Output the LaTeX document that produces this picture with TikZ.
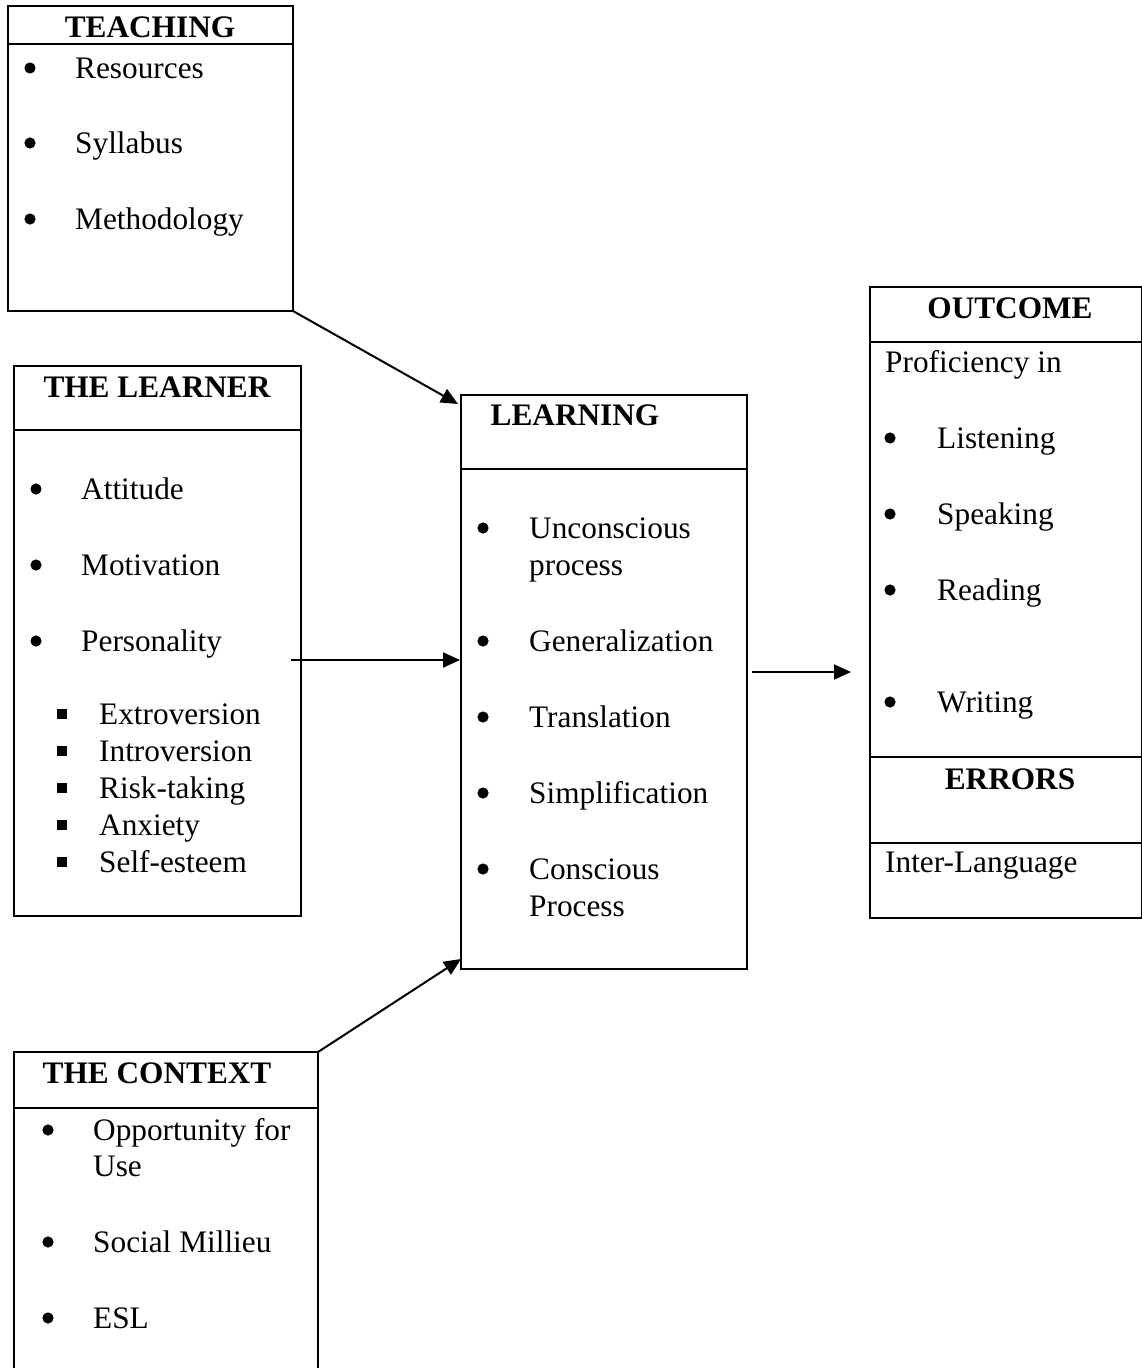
\documentclass[tikz,border=0pt]{standalone}
\usepackage{fontspec}
\setmainfont{Liberation Serif}
\usetikzlibrary{arrows.meta}
\newcommand{\fsz}{\fontsize{31.3}{37}\selectfont}
\tikzset{
  boxnode/.style={draw, line width=2pt, inner sep=0pt, outer sep=0pt, anchor=north west},
  openbox/.style={inner sep=0pt, outer sep=0pt, anchor=north west},
  sepline/.style={line width=2pt},
  txt/.style={anchor=base west, inner sep=0pt, font=\fsz},
  hd/.style={anchor=base, inner sep=0pt, font=\fsz\bfseries},
  conn/.style={line width=2pt, -{Triangle[length=17pt,width=15pt]}},
}
\newcommand{\bul}[2]{\fill (#1,#2-10) circle (5.6pt);}
\newcommand{\sqb}[2]{\fill (#1-5,#2-15) rectangle ++(10,10);}
\begin{document}
\begin{tikzpicture}[x=1pt,y=-1pt]
\useasboundingbox (0,0) rectangle (1142,1368);
% ---- TEACHING ----
\node[boxnode, minimum width=285pt, minimum height=305pt] (teach) at (8,6) {};
\draw[sepline] (8,44) -- (293,44);
\node[hd] (teachh) at (150,37) {TEACHING};
\bul{30}{78}\node[txt] (t1) at (75,78) {Resources};
\bul{30}{153}\node[txt] (t2) at (75,153) {Syllabus};
\bul{30}{229}\node[txt] (t3) at (75,229) {Methodology};
% ---- THE LEARNER ----
\node[boxnode, minimum width=287pt, minimum height=550pt] (learner) at (14,366) {};
\draw[sepline] (14,430) -- (301,430);
\node[hd] (learnerh) at (157,397) {THE LEARNER};
\bul{36}{499}\node[txt] (l1) at (81,499) {Attitude};
\bul{36}{575}\node[txt] (l2) at (81,575) {Motivation};
\bul{36}{651}\node[txt] (l3) at (81,651) {Personality};
\sqb{62}{724}\node[txt] (l4) at (99,724) {Extroversion};
\sqb{62}{761}\node[txt] (l5) at (99,761) {Introversion};
\sqb{62}{798}\node[txt] (l6) at (99,798) {Risk-taking};
\sqb{62}{835}\node[txt] (l7) at (99,835) {Anxiety};
\sqb{62}{872}\node[txt] (l8) at (99,872) {Self-esteem};
% ---- LEARNING ----
\node[boxnode, minimum width=286pt, minimum height=574pt] (learn) at (461,395) {};
\draw[sepline] (461,469) -- (747,469);
\node[hd] (learnh) at (575,425) {LEARNING};
\bul{483}{538}\node[txt] (g1) at (529,538) {Unconscious};
\node[txt] (g1b) at (529,575) {process};
\bul{483}{651}\node[txt] (g2) at (529,651) {Generalization};
\bul{483}{727}\node[txt] (g3) at (529,727) {Translation};
\bul{483}{803}\node[txt] (g4) at (529,803) {Simplification};
\bul{483}{879}\node[txt] (g5) at (529,879) {Conscious};
\node[txt] (g5b) at (529,916) {Process};
% ---- OUTCOME ----
\node[boxnode, minimum width=272pt, minimum height=631pt] (out) at (870,287) {};
\draw[sepline] (870,342) -- (1142,342);
\draw[sepline] (870,757) -- (1142,757);
\draw[sepline] (870,843) -- (1142,843);
\node[hd] (outh) at (1010,318) {OUTCOME};
\node[txt] (o0) at (885,372) {Proficiency in};
\bul{890}{448}\node[txt] (o1) at (937,448) {Listening};
\bul{890}{524}\node[txt] (o2) at (937,524) {Speaking};
\bul{890}{600}\node[txt] (o3) at (937,600) {Reading};
\bul{890}{712}\node[txt] (o4) at (937,712) {Writing};
\node[hd] (errh) at (1010,789) {ERRORS};
\node[txt] (e1) at (885,872) {Inter-Language};
% ---- THE CONTEXT ----
\node[openbox, minimum width=304pt, minimum height=320pt] (ctx) at (14,1052) {};
\draw[sepline] (ctx.south west) -- (ctx.north west) -- (ctx.north east) -- (ctx.south east);
\draw[sepline] (14,1108) -- (318,1108);
\node[hd] (ctxh) at (157,1083) {THE CONTEXT};
\bul{48}{1140}\node[txt] (c1) at (93,1140) {Opportunity for};
\node[txt] (c1b) at (93,1176) {Use};
\bul{48}{1252}\node[txt] (c2) at (93,1252) {Social Millieu};
\bul{48}{1328}\node[txt] (c3) at (93,1328) {ESL};
% ---- connectors ----
\coordinate (a1) at (458,404);
\coordinate (a2s) at (291,660);
\coordinate (a2e) at (460,660);
\coordinate (a3s) at (752,672);
\coordinate (a3e) at (851,672);
\coordinate (a4) at (461,959);
\draw[conn] (teach.south east) -- (a1);
\draw[conn] (a2s) -- (a2e);
\draw[conn] (a3s) -- (a3e);
\draw[conn] (ctx.north east) -- (a4);
\end{tikzpicture}
\end{document}
